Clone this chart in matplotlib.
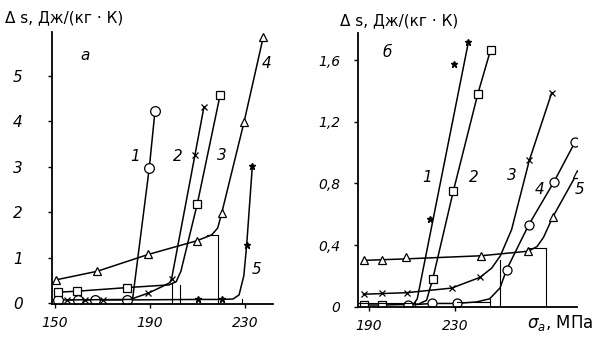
import matplotlib.pyplot as plt

# panel a
a1_x = [151.3, 159.7, 166.8, 180.3, 189.7, 192.1]
a1_y = [0.07, 0.07, 0.07, 0.07, 2.98, 4.23]
a1_lx = [151.3, 182.6, 189.7, 192.1]
a1_ly = [0.07, 0.07, 2.98, 4.23]

a2_x = [155, 162.6, 170.2, 189.3, 199.1, 208.9, 212.7]
a2_y = [0.07, 0.07, 0.07, 0.22, 0.54, 3.25, 4.31]
a2_lx = [155, 181.6, 189.3, 195, 198.4, 199.1, 208.9, 212.7]
a2_ly = [0.07, 0.08, 0.22, 0.36, 0.45, 0.54, 3.25, 4.31]

a3_x = [151.1, 159.1, 180.2, 209.9, 219.5]
a3_y = [0.24, 0.26, 0.34, 2.18, 4.57]
a3_lx = [151.1, 159.1, 180.2, 198, 201, 203, 209.9, 219.5]
a3_ly = [0.24, 0.26, 0.34, 0.40, 0.47, 0.7, 2.18, 4.57]

a4_x = [150.3, 167.8, 189.3, 209.7, 220.2, 229.6, 237.7]
a4_y = [0.51, 0.70, 1.07, 1.37, 1.98, 3.98, 5.85]
a4_lx = [150.3, 167.8, 189.3, 209.7, 216, 218.5, 220.2, 229.6, 237.7]
a4_ly = [0.51, 0.70, 1.07, 1.37, 1.5, 1.65, 1.98, 3.98, 5.85]

a5_x = [210.3, 220.2, 230.7, 233.1]
a5_y = [0.08, 0.08, 1.27, 3.02]
a5_lx = [182.6, 210.3, 220.2, 225, 227.5, 229.5, 230.7, 233.1]
a5_ly = [0.07, 0.08, 0.08, 0.09, 0.18, 0.6, 1.27, 3.02]

a_vert_x = [199.1, 202.6, 218.8, 228.6]
a_vert_top = [0.45, 0.40, 1.5, 0.09]
a_hor = [(214, 218.8, 1.5)]

a_lab_x = [183.7, 201.9, 220.2, 239.1, 234.9]
a_lab_y = [3.22, 3.22, 3.25, 5.27, 0.73]

# panel b
b1_x = [218.4, 229.7, 236.2]
b1_y = [0.567, 1.58, 1.72]
b1_lx = [208, 211, 212.5, 236.2]
b1_ly = [0.01, 0.02, 0.05, 1.72]

b2_x = [187.6, 196.1, 219.7, 229.2, 240.5, 246.5]
b2_y = [0.01, 0.01, 0.18, 0.75, 1.38, 1.67]
b2_lx = [187.6, 196.1, 213, 216.8, 219.7, 229.2, 240.5, 246.5]
b2_ly = [0.01, 0.01, 0.015, 0.04, 0.18, 0.75, 1.38, 1.67]

b3_x = [187.6, 196.1, 207.6, 228.5, 241.6, 264.4, 274.8]
b3_y = [0.08, 0.09, 0.09, 0.12, 0.19, 0.95, 1.39]
b3_lx = [187.6, 207.6, 228.5, 241.6, 247, 251, 256.2, 264.4, 274.8]
b3_ly = [0.08, 0.09, 0.12, 0.19, 0.25, 0.33, 0.5, 0.95, 1.39]

b4_x = [208.4, 219.5, 230.8, 253.9, 264.1, 275.8, 285.6]
b4_y = [0.01, 0.02, 0.02, 0.24, 0.53, 0.81, 1.07]
b4_lx = [208.4, 219.5, 230.8, 240, 246, 250.8, 253.9, 264.1, 275.8, 285.6]
b4_ly = [0.01, 0.02, 0.02, 0.03, 0.05, 0.12, 0.24, 0.53, 0.81, 1.07]

b5_x = [187.6, 196.1, 207.4, 242, 264, 275.2, 286.3]
b5_y = [0.30, 0.30, 0.32, 0.33, 0.36, 0.58, 0.86]
b5_lx = [187.6, 207.4, 242, 264, 268, 271, 275.2, 286.3]
b5_ly = [0.30, 0.31, 0.33, 0.36, 0.39, 0.45, 0.58, 0.86]

b_vert_x = [211.5, 246.2, 250.8, 272.1]
b_vert_top = [0.03, 0.05, 0.3, 0.38]
b_hor = [(185.2, 211.5, 0.025), (230.8, 246.2, 0.03), (264, 272.1, 0.38)]

b_lab_x = [216.9, 238.9, 256.2, 269.4, 287.9]
b_lab_y = [0.84, 0.84, 0.85, 0.76, 0.76]

labels = ["1", "2", "3", "4", "5"]
ylab = "Δ s, Дж/(кг · К)"

fig = plt.figure(figsize=(5.97, 3.40), dpi=100)
axA = fig.add_axes([0.0871, 0.1059, 0.3702, 0.80])
axB = fig.add_axes([0.6002, 0.0971, 0.3663, 0.806])


def draw(ax, lines, marks, styles, vx, vtop, hor):
    for (lx, ly), (mx, my), (m, ms) in zip(lines, marks, styles):
        ax.plot(lx, ly, color="black", linewidth=1.1)
        if m == "*":
            ax.plot(mx, my, linestyle="none", marker=m, markersize=ms, color="black")
        else:
            ax.plot(mx, my, linestyle="none", marker=m, markersize=ms,
                    markerfacecolor="white", markeredgecolor="black", markeredgewidth=0.9)
    for x, t in zip(vx, vtop):
        ax.plot([x, x], [0, t], color="black", linewidth=0.8)
    for x0, x1, y in hor:
        ax.plot([x0, x1], [y, y], color="black", linewidth=0.8)
    for s in ["top", "right"]:
        ax.spines[s].set_visible(False)
    for s in ["left", "bottom"]:
        ax.spines[s].set_linewidth(1.3)
    ax.tick_params(direction="out", length=3, width=1)


styles = [("o", 7), ("x", 4.5), ("s", 5.5), ("^", 5.5), ("*", 4.5)]
draw(axA,
     [(a1_lx, a1_ly), (a2_lx, a2_ly), (a3_lx, a3_ly), (a4_lx, a4_ly), (a5_lx, a5_ly)],
     [(a1_x, a1_y), (a2_x, a2_y), (a3_x, a3_y), (a4_x, a4_y), (a5_x, a5_y)],
     styles, a_vert_x, a_vert_top, a_hor)
stylesB = [("*", 4.5), ("s", 5.5), ("x", 4.5), ("o", 6.5), ("^", 5.5)]
draw(axB,
     [(b1_lx, b1_ly), (b2_lx, b2_ly), (b3_lx, b3_ly), (b4_lx, b4_ly), (b5_lx, b5_ly)],
     [(b1_x, b1_y), (b2_x, b2_y), (b3_x, b3_y), (b4_x, b4_y), (b5_x, b5_y)],
     stylesB, b_vert_x, b_vert_top, b_hor)

axA.set_xlim(148.7, 241.8)
axA.set_ylim(-0.02, 5.96)
axA.set_xticks([150, 190, 230])
axA.set_xticklabels(["150", "190", "230"], fontstyle="italic", fontsize=10)
axA.set_yticks([0, 1, 2, 3, 4, 5])
axA.set_yticklabels(["0", "1", "2", "3", "4", "5"], fontstyle="italic", fontsize=11)
axA.tick_params(axis="y", pad=18)
axA.tick_params(axis="x", pad=6)

axB.set_xlim(185.2, 286.5)
axB.set_ylim(-0.003, 1.779)
axB.set_xticks([190, 230])
axB.set_xticklabels(["190", "230"], fontstyle="italic", fontsize=10)
axB.set_yticks([0, 0.4, 0.8, 1.2, 1.6])
axB.set_yticklabels(["0", "0,4", "0,8", "1,2", "1,6"], fontstyle="italic", fontsize=10)
axB.tick_params(axis="y", pad=10)
axB.tick_params(axis="x", pad=6)

for t, x, y in zip(labels, a_lab_x, a_lab_y):
    axA.text(x, y, t, fontsize=11, fontstyle="italic", ha="center", va="center")
for t, x, y in zip(labels, b_lab_x, b_lab_y):
    axB.text(x, y, t, fontsize=11, fontstyle="italic", ha="center", va="center")
axA.text(162.6, 5.45, "а", fontsize=11, fontstyle="italic", ha="center", va="center")
axB.text(198.5, 1.65, "б", fontsize=11, fontstyle="italic", ha="center", va="center")

fig.text(5 / 597, 1 - 18 / 340, ylab, fontsize=11, ha="left", va="center")
fig.text(340 / 597, 1 - 21 / 340, ylab, fontsize=11, ha="left", va="center")
fig.text(527 / 597, 1 - 323 / 340, r"$\sigma_a$, МПа", fontsize=12, ha="left", va="center")

fig.savefig("out.png", dpi=100)
